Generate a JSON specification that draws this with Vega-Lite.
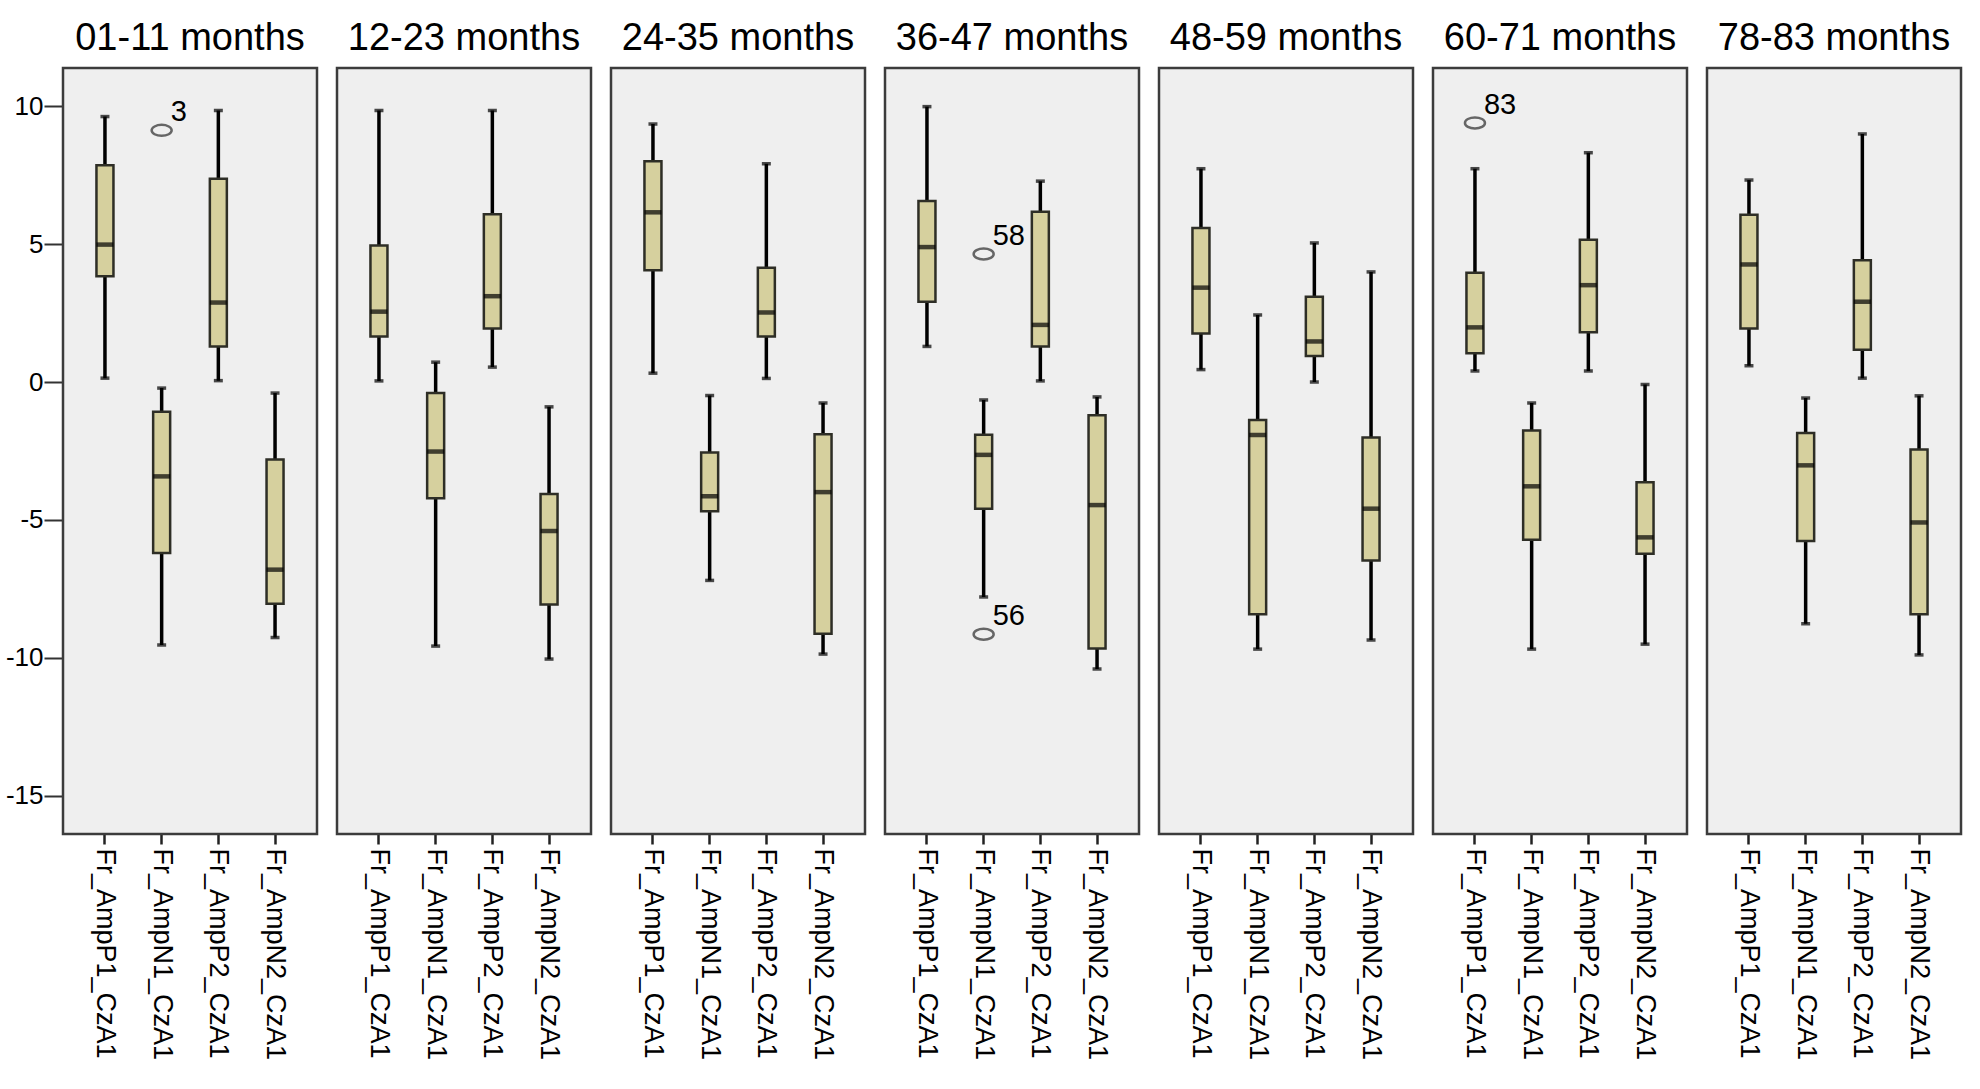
{
  "$schema": "https://vega.github.io/schema/vega-lite/v6.json",
  "padding": {"left": 5, "top": 20, "right": 5, "bottom": 5},
  "background": "white",
  "bounds": "flush",
  "data": {"values": [
    {"age": "01-11 months", "var": "Fr_AmpP1_CzA1", "lo": 0.14, "q1": 3.83, "med": 4.98, "q3": 7.86, "hi": 9.62},
    {"age": "01-11 months", "var": "Fr_AmpN1_CzA1", "lo": -9.53, "q1": -6.2, "med": -3.42, "q3": -1.08, "hi": -0.22},
    {"age": "01-11 months", "var": "Fr_AmpP2_CzA1", "lo": 0.05, "q1": 1.29, "med": 2.88, "q3": 7.37, "hi": 9.84},
    {"age": "01-11 months", "var": "Fr_AmpN2_CzA1", "lo": -9.26, "q1": -8.04, "med": -6.8, "q3": -2.81, "hi": -0.4},
    {"age": "12-23 months", "var": "Fr_AmpP1_CzA1", "lo": 0.04, "q1": 1.65, "med": 2.55, "q3": 4.95, "hi": 9.84},
    {"age": "12-23 months", "var": "Fr_AmpN1_CzA1", "lo": -9.57, "q1": -4.21, "med": -2.52, "q3": -0.4, "hi": 0.72},
    {"age": "12-23 months", "var": "Fr_AmpP2_CzA1", "lo": 0.54, "q1": 1.94, "med": 3.11, "q3": 6.08, "hi": 9.84},
    {"age": "12-23 months", "var": "Fr_AmpN2_CzA1", "lo": -10.04, "q1": -8.06, "med": -5.4, "q3": -4.06, "hi": -0.9},
    {"age": "24-35 months", "var": "Fr_AmpP1_CzA1", "lo": 0.32, "q1": 4.05, "med": 6.15, "q3": 8.0, "hi": 9.35},
    {"age": "24-35 months", "var": "Fr_AmpN1_CzA1", "lo": -7.19, "q1": -4.68, "med": -4.14, "q3": -2.55, "hi": -0.49},
    {"age": "24-35 months", "var": "Fr_AmpP2_CzA1", "lo": 0.13, "q1": 1.65, "med": 2.52, "q3": 4.14, "hi": 7.91},
    {"age": "24-35 months", "var": "Fr_AmpN2_CzA1", "lo": -9.86, "q1": -9.12, "med": -3.99, "q3": -1.89, "hi": -0.76},
    {"age": "36-47 months", "var": "Fr_AmpP1_CzA1", "lo": 1.29, "q1": 2.91, "med": 4.89, "q3": 6.56, "hi": 9.98},
    {"age": "36-47 months", "var": "Fr_AmpN1_CzA1", "lo": -7.79, "q1": -4.59, "med": -2.64, "q3": -1.91, "hi": -0.65},
    {"age": "36-47 months", "var": "Fr_AmpP2_CzA1", "lo": 0.04, "q1": 1.29, "med": 2.07, "q3": 6.17, "hi": 7.28},
    {"age": "36-47 months", "var": "Fr_AmpN2_CzA1", "lo": -10.4, "q1": -9.66, "med": -4.46, "q3": -1.2, "hi": -0.54},
    {"age": "48-59 months", "var": "Fr_AmpP1_CzA1", "lo": 0.45, "q1": 1.76, "med": 3.42, "q3": 5.58, "hi": 7.73},
    {"age": "48-59 months", "var": "Fr_AmpN1_CzA1", "lo": -9.68, "q1": -8.42, "med": -1.92, "q3": -1.38, "hi": 2.43},
    {"age": "48-59 months", "var": "Fr_AmpP2_CzA1", "lo": 0.0, "q1": 0.94, "med": 1.47, "q3": 3.09, "hi": 5.04},
    {"age": "48-59 months", "var": "Fr_AmpN2_CzA1", "lo": -9.35, "q1": -6.47, "med": -4.59, "q3": -2.01, "hi": 3.99},
    {"age": "60-71 months", "var": "Fr_AmpP1_CzA1", "lo": 0.4, "q1": 1.04, "med": 1.98, "q3": 3.96, "hi": 7.73},
    {"age": "60-71 months", "var": "Fr_AmpN1_CzA1", "lo": -9.68, "q1": -5.72, "med": -3.78, "q3": -1.76, "hi": -0.76},
    {"age": "60-71 months", "var": "Fr_AmpP2_CzA1", "lo": 0.4, "q1": 1.8, "med": 3.51, "q3": 5.16, "hi": 8.31},
    {"age": "60-71 months", "var": "Fr_AmpN2_CzA1", "lo": -9.5, "q1": -6.22, "med": -5.63, "q3": -3.63, "hi": -0.09},
    {"age": "78-83 months", "var": "Fr_AmpP1_CzA1", "lo": 0.59, "q1": 1.94, "med": 4.26, "q3": 6.06, "hi": 7.32},
    {"age": "78-83 months", "var": "Fr_AmpN1_CzA1", "lo": -8.76, "q1": -5.76, "med": -3.02, "q3": -1.85, "hi": -0.58},
    {"age": "78-83 months", "var": "Fr_AmpP2_CzA1", "lo": 0.14, "q1": 1.17, "med": 2.91, "q3": 4.41, "hi": 8.99},
    {"age": "78-83 months", "var": "Fr_AmpN2_CzA1", "lo": -9.89, "q1": -8.42, "med": -5.09, "q3": -2.45, "hi": -0.5},
    {"age": "01-11 months", "var": "Fr_AmpN1_CzA1", "out": 9.12, "lab": "3"},
    {"age": "36-47 months", "var": "Fr_AmpN1_CzA1", "out": 4.64, "lab": "58"},
    {"age": "36-47 months", "var": "Fr_AmpN1_CzA1", "out": -9.14, "lab": "56"},
    {"age": "60-71 months", "var": "Fr_AmpP1_CzA1", "out": 9.39, "lab": "83"}
  ]},
  "facet": {
    "column": {
      "field": "age", "type": "nominal",
      "sort": ["01-11 months", "12-23 months", "24-35 months", "36-47 months", "48-59 months", "60-71 months", "78-83 months"],
      "title": null,
      "header": {"labelFontSize": 38, "labelFont": "Liberation Sans", "labelColor": "#000000", "labelPadding": 10}
    }
  },
  "spacing": 20,
  "spec": {
    "width": 254,
    "height": 766,
    "encoding": {
      "x": {
        "field": "var", "type": "nominal",
        "sort": ["Fr_AmpP1_CzA1", "Fr_AmpN1_CzA1", "Fr_AmpP2_CzA1", "Fr_AmpN2_CzA1"],
        "scale": {"paddingInner": 0, "paddingOuter": 0.24},
        "title": null,
        "axis": {"labelAngle": 90, "labelFontSize": 27, "labelLimit": 400, "labelColor": "#000000", "labelPadding": 4, "tickSize": 10, "tickWidth": 2.5, "tickColor": "#222222", "domain": false, "grid": false}
      }
    },
    "layer": [
      {
        "transform": [{"filter": "isValid(datum.med)"}],
        "mark": {"type": "rule", "strokeWidth": 3.5, "color": "#000000"},
        "encoding": {
          "y": {"field": "lo", "type": "quantitative", "scale": {"domain": [-16.38, 11.38], "nice": false, "zero": false},
                "title": null,
                "axis": {"values": [-15, -10, -5, 0, 5, 10], "labelExpr": "'' + datum.value", "labelFontSize": 26, "labelColor": "#000000", "tickSize": 19, "tickWidth": 2, "tickColor": "#333333", "labelPadding": 1, "domain": false, "grid": false}},
          "y2": {"field": "hi"}
        }
      },
      {
        "transform": [{"filter": "isValid(datum.med)"}],
        "mark": {"type": "tick", "size": 9, "thickness": 3.5, "color": "#000000"},
        "encoding": {"y": {"field": "lo", "type": "quantitative"}}
      },
      {
        "transform": [{"filter": "isValid(datum.med)"}],
        "mark": {"type": "tick", "size": 9, "thickness": 3.5, "color": "#000000"},
        "encoding": {"y": {"field": "hi", "type": "quantitative"}}
      },
      {
        "transform": [{"filter": "isValid(datum.med)"}],
        "mark": {"type": "bar", "size": 17, "fill": "#d6d09e", "stroke": "#2e2e26", "strokeWidth": 2.5},
        "encoding": {"y": {"field": "q1", "type": "quantitative"}, "y2": {"field": "q3"}}
      },
      {
        "transform": [{"filter": "isValid(datum.med)"}],
        "mark": {"type": "tick", "size": 17, "thickness": 4.5, "color": "#000000"},
        "encoding": {"y": {"field": "med", "type": "quantitative"}}
      },
      {
        "transform": [{"filter": "isValid(datum.out)"}],
        "mark": {"type": "point", "shape": "M-1,0A1,0.55,0,1,1,1,0A1,0.55,0,1,1,-1,0Z", "size": 400, "filled": false, "stroke": "#666666", "strokeWidth": 2.5, "opacity": 1},
        "encoding": {"y": {"field": "out", "type": "quantitative"}}
      },
      {
        "transform": [{"filter": "isValid(datum.out)"}],
        "mark": {"type": "text", "align": "left", "baseline": "middle", "dx": 9, "dy": -18, "fontSize": 29, "font": "Liberation Sans", "color": "#000000"},
        "encoding": {"y": {"field": "out", "type": "quantitative"}, "text": {"field": "lab"}}
      }
    ]
  },
  "config": {
    "font": "Liberation Sans",
    "view": {"stroke": "#3c3c3c", "strokeWidth": 2.5, "fill": "#efefef"},
    "axis": {"labelFont": "Liberation Sans"}
  }
}
